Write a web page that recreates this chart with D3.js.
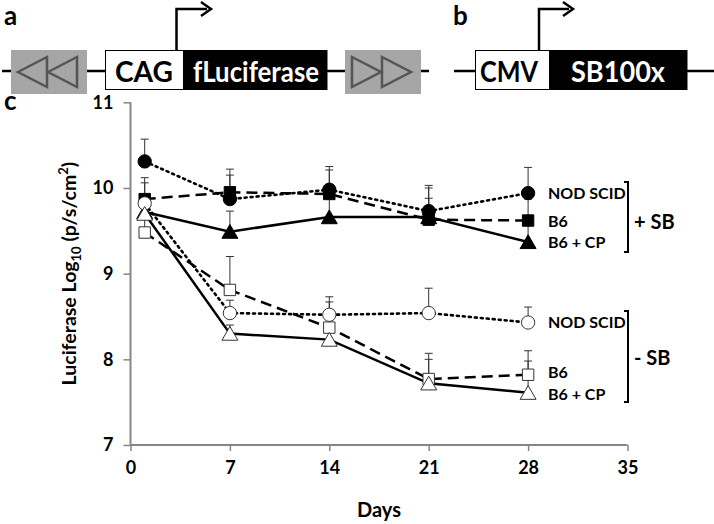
<!DOCTYPE html>
<html><head><meta charset="utf-8">
<script src="https://cdn.jsdelivr.net/npm/d3@7"></script>
<style>body{margin:0;background:#fff}svg{display:block}text{font-family:Lato,"Open Sans",sans-serif;font-weight:700;fill:#000}</style>
</head><body><svg id="c" width="714" height="524"></svg>
<script>
// ---- data ----
const days = [1, 7, 14, 21, 28];
const xTicks = [0, 7, 14, 21, 28, 35];
const yTicks = [7, 8, 9, 10, 11];
const seriesNames = ["NOD SCID", "B6", "B6 + CP", "NOD SCID", "B6", "B6 + CP"];
const groups = ["+ SB", "- SB"];
const nodSB      = [10.31, 9.87, 9.98, 9.73, 9.94];
const nodSBErr   = [0.26, 0.35, 0.27, 0.30, 0.30];
const b6SB       = [9.87, 9.95, 9.93, 9.63, 9.62];
const b6SBErr    = [0.25, 0.20, 0.28, 0.37, 0.25];
const b6cpSB     = [9.72, 9.49, 9.66, 9.66, 9.37];
const b6cpSBErr  = [0.10, 0.24, 0.25, 0.22, 0.20];
const nodNo      = [9.82, 8.54, 8.52, 8.54, 8.43];
const nodNoErr   = [0.24, 0.15, 0.21, 0.29, 0.18];
const b6No       = [9.48, 8.81, 8.37, 7.77, 7.82];
const b6NoErr    = [0.17, 0.39, 0.30, 0.30, 0.28];
const b6cpNo     = [9.70, 8.30, 8.23, 7.72, 7.61];
const b6cpNoErr  = [0.10, 0.10, 0.10, 0.28, 0.37];

const svg = d3.select("#c");
// ---- panel a / b diagrams ----
const diag = svg.append("g");
diag.append("text").attr("x", 4).attr("y", 25).attr("font-size", 26).text("a");
diag.append("text").attr("x", 453).attr("y", 25).attr("font-size", 26).text("b");
diag.append("text").attr("x", 4).attr("y", 110).attr("font-size", 26).text("c");
diag.append("line").attr("x1", 2).attr("x2", 429).attr("y1", 71).attr("y2", 71).attr("stroke", "#000").attr("stroke-width", 2.5);
diag.append("line").attr("x1", 454).attr("x2", 714).attr("y1", 71).attr("y2", 71).attr("stroke", "#000").attr("stroke-width", 2.5);
function grayBox(x0, dir) {
  diag.append("rect").attr("x", x0).attr("y", 50).attr("width", 76).attr("height", 44).attr("fill", "#a6a6a6");
  const tri = dir < 0 ? [[7, 0], [36, -15], [36, 15]] : [[7, -15], [7, 15], [36, 0]];
  [0, 30].forEach(o => {
    diag.append("path").attr("d", d3.line()(tri.map(p => [x0 + o + p[0], 72 + p[1]])) + "Z")
      .attr("fill", "none").attr("stroke", "#555").attr("stroke-width", 2.5);
  });
}
grayBox(11, -1); grayBox(345, 1);
diag.append("rect").attr("x", 105.5).attr("y", 50.5).attr("width", 78).attr("height", 39).attr("fill", "#fff").attr("stroke", "#000").attr("stroke-width", 1);
diag.append("rect").attr("x", 183.5).attr("y", 50).attr("width", 144).attr("height", 40).attr("fill", "#000");
diag.append("text").attr("x", 144).attr("y", 82).attr("text-anchor", "middle").attr("font-size", 29).attr("textLength", 58).attr("lengthAdjust", "spacingAndGlyphs").text("CAG");
diag.append("text").attr("x", 256).attr("y", 82).attr("text-anchor", "middle").attr("font-size", 29).style("fill", "#fff").attr("textLength", 126).attr("lengthAdjust", "spacingAndGlyphs").text("fLuciferase");
diag.append("rect").attr("x", 475.5).attr("y", 50.5).attr("width", 74).attr("height", 39).attr("fill", "#fff").attr("stroke", "#000").attr("stroke-width", 1);
diag.append("rect").attr("x", 549.5).attr("y", 50).attr("width", 138).attr("height", 40).attr("fill", "#000");
diag.append("text").attr("x", 509).attr("y", 82).attr("text-anchor", "middle").attr("font-size", 29).attr("textLength", 58).attr("lengthAdjust", "spacingAndGlyphs").text("CMV");
diag.append("text").attr("x", 618).attr("y", 82).attr("text-anchor", "middle").attr("font-size", 29).style("fill", "#fff").attr("textLength", 94).attr("lengthAdjust", "spacingAndGlyphs").text("SB100x");
function arrow(x, x2) {
  diag.append("path").attr("d", `M${x},50V9H${x2 - 4}`).attr("fill", "none").attr("stroke", "#000").attr("stroke-width", 2.5);
  diag.append("path").attr("d", `M${x2 - 10},2L${x2},9L${x2 - 10},16`).attr("fill", "none").attr("stroke", "#000").attr("stroke-width", 2.5);
}
arrow(176.5, 211); arrow(539, 573);

// ---- chart c ----
const x = d3.scaleLinear().domain([0, 35]).range([130.5, 627.5]);
const y = d3.scaleLinear().domain([7, 11]).range([445, 102.3]);
const axisColor = "#868686";
const gx = svg.append("g").attr("transform", `translate(0,${y(7)})`)
  .call(d3.axisBottom(x).tickValues(xTicks).tickFormat(d3.format("d")).tickSize(6).tickPadding(10));
const gy = svg.append("g").attr("transform", `translate(${x(0)},0)`)
  .call(d3.axisLeft(y).tickValues(yTicks).tickFormat(d3.format("d")).tickSize(7).tickPadding(10));
[gx, gy].forEach(g => {
  g.select(".domain").attr("stroke", axisColor).attr("stroke-width", 2);
  g.selectAll(".tick line").attr("stroke", axisColor).attr("stroke-width", 1.5);
  g.selectAll(".tick text").attr("font-size", 18).attr("font-family", "Lato").attr("font-weight", 700).attr("fill", "#000");
});
gx.select(".domain").attr("d", `M${x(0)},0H${x(35)}`);
gy.select(".domain").attr("d", `M0,${y(7)}V${y(11)}`);

svg.append("text").attr("x", x(17.5)).attr("y", 517).attr("text-anchor", "middle").attr("font-size", 20).text("Days");
const yl = svg.append("text").attr("transform", `translate(76,${y(9)}) rotate(-90)`).attr("text-anchor", "middle").attr("font-size", 19.5);
yl.append("tspan").text("Luciferase Log");
yl.append("tspan").attr("font-size", 13).attr("dy", 5).text("10");
yl.append("tspan").attr("dy", -5).text(" (p/s/cm");
yl.append("tspan").attr("font-size", 13).attr("dy", -8).text("2");
yl.append("tspan").attr("dy", 8).text(")");

const series = [
  {vals: nodSB, err: nodSBErr, dash: "2,4", shape: "circle", fill: "#000"},
  {vals: b6SB, err: b6SBErr, dash: "11,6", shape: "square", fill: "#000"},
  {vals: b6cpSB, err: b6cpSBErr, dash: null, shape: "triangle", fill: "#000"},
  {vals: nodNo, err: nodNoErr, dash: "2,4", shape: "circle", fill: "#fff"},
  {vals: b6No, err: b6NoErr, dash: "11,6", shape: "square", fill: "#fff"},
  {vals: b6cpNo, err: b6cpNoErr, dash: null, shape: "triangle", fill: "#fff"}
];
const line = d3.line().x(d => x(d[0])).y(d => y(d[1]));
const gl = svg.append("g"), ge = svg.append("g"), gm = svg.append("g");
series.forEach(s => {
  const pts = days.map((d, i) => [d, s.vals[i], s.err[i]]);
  gl.append("path").attr("d", line(pts)).attr("fill", "none").attr("stroke", "#000")
    .attr("stroke-width", s.dash === "2,4" ? 2.6 : 2.5).attr("stroke-dasharray", s.dash)
    .attr("stroke-linecap", s.dash === "2,4" ? "round" : "butt");
  pts.forEach(p => {
    ge.append("path").attr("d", `M${x(p[0])},${y(p[1])}V${y(p[1] + p[2])}M${x(p[0]) - 4},${y(p[1] + p[2])}h8`)
      .attr("stroke", "#333").attr("stroke-width", 1).attr("fill", "none");
  });
  const sym = s.shape === "circle" ? d3.symbolCircle : s.shape === "square" ? d3.symbolSquare : d3.symbolTriangle;
  const size = s.shape === "circle" ? 140 : s.shape === "square" ? 130 : 110;
  pts.forEach(p => {
    gm.append("path").attr("d", d3.symbol(sym, size)())
      .attr("transform", `translate(${x(p[0])},${y(p[1]) + (s.shape === "triangle" ? 2 : 0)})`)
      .attr("fill", s.fill).attr("stroke", s.fill === "#000" ? "#000" : "#333").attr("stroke-width", 1);
  });
});

// legend labels & brackets
const labY = [193, 221, 242, 322, 372, 394];
seriesNames.forEach((n, i) => {
  svg.append("text").attr("x", 548).attr("y", labY[i] + 6).attr("font-size", 16).text(n);
});
const brackets = [[182, 252, 222], [311, 402, 358]];
brackets.forEach((b, i) => {
  svg.append("path").attr("d", `M624,${b[0]}H628V${b[1]}H624`).attr("fill", "none").attr("stroke", "#000").attr("stroke-width", 2);
  svg.append("text").attr("x", 634).attr("y", b[2] + 7).attr("font-size", 20).text(groups[i]);
});
</script></body></html>
